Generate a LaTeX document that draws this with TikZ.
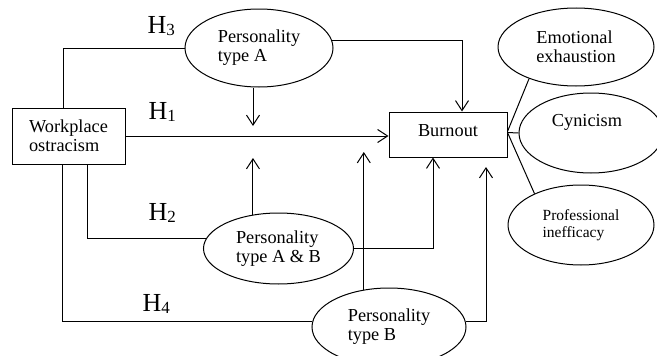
\documentclass[tikz,border=0pt]{standalone}
\usepackage{fontspec}
\setmainfont{Liberation Serif}
\usetikzlibrary{shapes.geometric,arrows.meta}
\begin{document}
\begin{tikzpicture}[x=1pt,y=-1pt,line width=1pt,
  arr/.style={-{Straight Barb[length=10pt,width=13pt]}},
  txt/.style={font=\fontsize{18.3}{18.8}\selectfont},
  boxn/.style={draw,rectangle,inner sep=0pt,align=left,txt},
  ell/.style={draw,ellipse,inner sep=0pt,align=left,txt},
  hlab/.style={anchor=base west,inner sep=0pt,font=\fontsize{26}{26}\selectfont}]
\useasboundingbox (0,0) rectangle (657,356);
% boxes
\node[boxn,minimum width=113pt,minimum height=56pt] (wo) at (68.5,136) {Workplace\\ostracism};
\node[boxn,minimum width=118pt,minimum height=45pt,text depth=7pt] (bo) at (448,134.5) {Burnout};
% ellipses
\node[ell,minimum width=148pt,minimum height=78pt] (pA) at (259,48) {Personality\\type A};
\node[ell,minimum width=150pt,minimum height=71pt] (pAB) at (278.5,248.5) {Personality\\type A \& B};
\node[ell,minimum width=154pt,minimum height=78pt] (pB) at (389,327) {Personality\\type B};
\node[ell,minimum width=156pt,minimum height=78pt] (ee) at (576,47) {Emotional\\exhaustion};
\node[ell,minimum width=144pt,minimum height=80pt] (cy) at (591,133) {};
\node[txt,anchor=base,inner sep=0pt] (cyt) at (587,126) {Cynicism};
\node[ell,minimum width=146pt,minimum height=80pt,font=\fontsize{15.5}{16.5}\selectfont] (pi) at (581,225) {Professional\\inefficacy};
% labels
\node[hlab] (h3) at (147,33) {H\raisebox{-2pt}{\fontsize{17}{17}\selectfont 3}};
\node[hlab] (h1) at (148,119) {H\raisebox{-2pt}{\fontsize{17}{17}\selectfont 1}};
\node[hlab] (h2) at (148,220) {H\raisebox{-2pt}{\fontsize{17}{17}\selectfont 2}};
\node[hlab] (h4) at (142,311) {H\raisebox{-2pt}{\fontsize{17}{17}\selectfont 4}};
% tip coordinates
\coordinate (tA) at (253,126);
\coordinate (tAB) at (253,158);
\coordinate (tB) at (364,152);
\coordinate (tB2) at (486,167);
% connectors
\draw ([xshift=52pt]wo.north west) |- (pA.west);
\draw[arr] (pA.south -| tA) -- (tA);
\draw[arr] (pA.6) -| ([xshift=14pt]bo.north);
\draw[arr] (wo.east) -- (wo.east -| bo.west);
\draw ([xshift=76pt]wo.south west) |- (pAB.172);
\draw[arr] (pAB.127) -- (pAB.127 |- tAB);
\draw[arr] (pAB.east) -| ([xshift=-15pt]bo.south);
\draw ([xshift=51pt]wo.south west) |- (pB.176);
\draw[arr] (pB.124) -- (pB.124 |- tB);
\draw[arr] (pB.4) -| (tB2);
\draw ([yshift=3pt]bo.east) -- (ee.214);
\draw ([yshift=2pt]bo.east) -- (cy.west);
\draw ([yshift=2pt]bo.east) -- (pi.146);
\end{tikzpicture}
\end{document}
